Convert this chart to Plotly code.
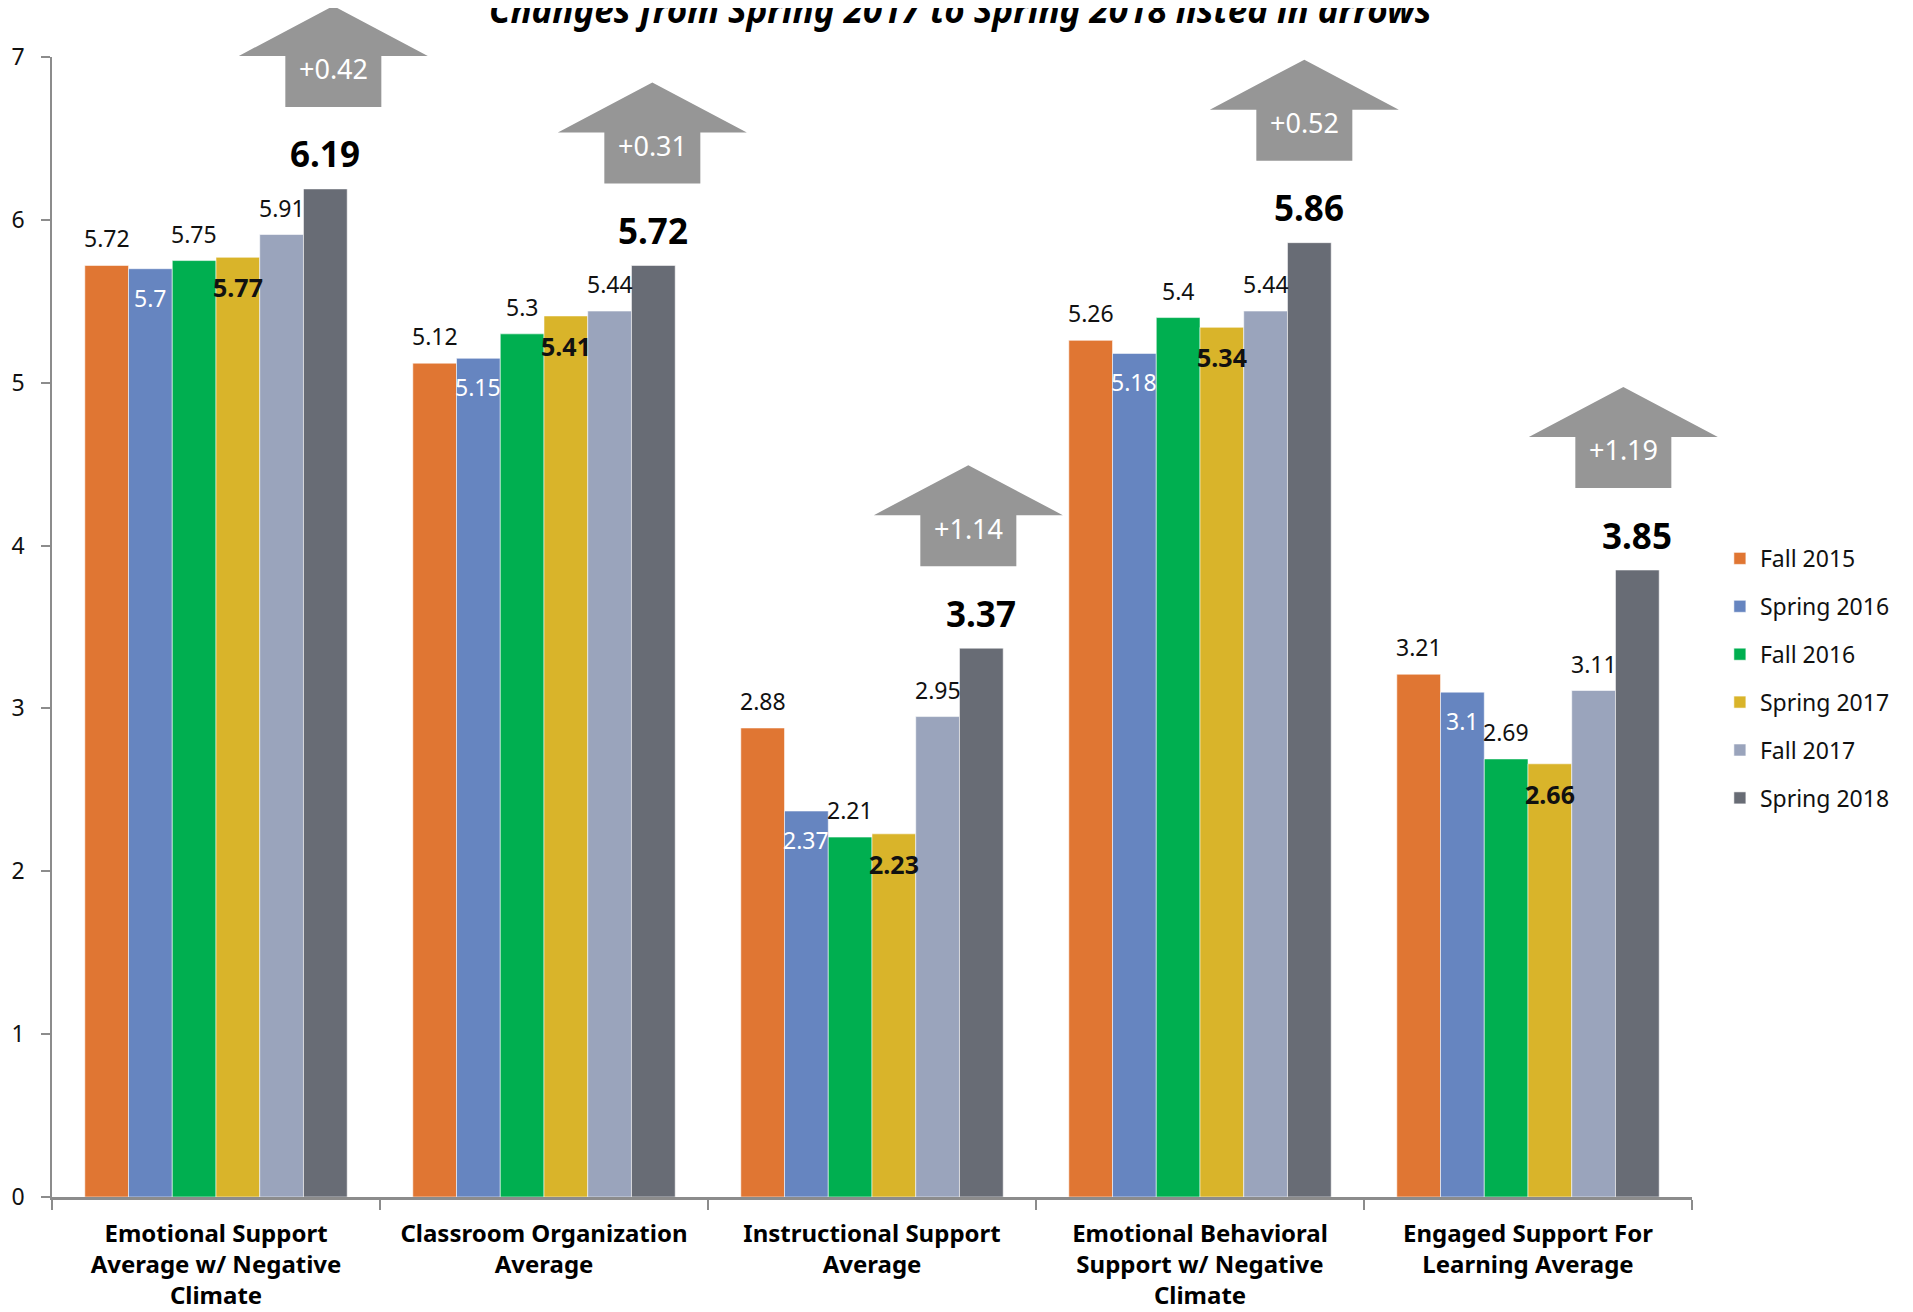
import plotly.graph_objects as go

# ---------------- data ----------------
categories = [
    "Emotional Support<br>Average w/ Negative<br>Climate",
    "Classroom Organization<br>Average",
    "Instructional Support<br>Average",
    "Emotional Behavioral<br>Support w/ Negative<br>Climate",
    "Engaged Support For<br>Learning Average",
]
series_names = ["Fall 2015", "Spring 2016", "Fall 2016", "Spring 2017", "Fall 2017", "Spring 2018"]
fall_2015 = [5.72, 5.12, 2.88, 5.26, 3.21]
spring_2016 = [5.7, 5.15, 2.37, 5.18, 3.1]
fall_2016 = [5.75, 5.3, 2.21, 5.4, 2.69]
spring_2017 = [5.77, 5.41, 2.23, 5.34, 2.66]
fall_2017 = [5.91, 5.44, 2.95, 5.44, 3.11]
spring_2018 = [6.19, 5.72, 3.37, 5.86, 3.85]
changes = ["+0.42", "+0.31", "+1.14", "+0.52", "+1.19"]
y_ticks = [0, 1, 2, 3, 4, 5, 6, 7]
title_text = "Changes from Spring 2017 to Spring 2018 listed in arrows"

series_values = [fall_2015, spring_2016, fall_2016, spring_2017, fall_2017, spring_2018]
colors = ["#E07633", "#6685C0", "#00AF50", "#D9B42A", "#9AA4BC", "#686C75"]
# label style per series: (pixel shift of label centre from bar top, colour, bold, size)
label_styles = [
    (27, "#111111", False, 23),
    (-29, "#FFFFFF", False, 23),
    (27, "#111111", False, 23),
    (-30, "#111111", True, 25),
    (27, "#111111", False, 23),
    (35, "#000000", True, 35),
]
# horizontal pixel nudges of the hand-placed arrows
arrow_nudge = [8, -1, -13, -5, -14]

FONT = "Noto Sans"
W, H = 1905, 1304          # page adds an 8px body margin
ML, MT = 44, 49
PW, PH = 1640, 1140
MR, MB = W - ML - PW, H - MT - PH
X0, X1 = -0.5, len(categories) - 0.5
Y0, Y1 = 0, 7
BARGAP = 0.2
n_series = len(series_names)
bar_w = (1 - BARGAP) / n_series

x_idx = list(range(len(categories)))

fig = go.Figure()
for name, vals, col in zip(series_names, series_values, colors):
    fig.add_trace(go.Bar(
        x=x_idx, y=vals, name=name, legendgroup=name,
        marker=dict(color=col, line=dict(color="rgba(255,255,255,0.55)", width=1)),
        hoverinfo="skip",
    ))


def bar_center(i, j):
    return i + (j - (n_series - 1) / 2) * bar_w


def px_x(v):
    return (v - X0) / (X1 - X0)


def px_y(v):
    return (v - Y0) / (Y1 - Y0)


annotations = []
# value labels
for j, vals in enumerate(series_values):
    shift, col, bold, size = label_styles[j]
    for i, v in enumerate(vals):
        txt = f"{v:g}"
        if bold:
            txt = f"<b>{txt}</b>"
        annotations.append(dict(
            x=bar_center(i, j), y=v, xref="x", yref="y", text=txt, showarrow=False,
            yanchor="middle", xanchor="center", yshift=shift,
            font=dict(family=FONT, size=size, color=col),
        ))

# arrows with change values (drawn above the Spring 2018 bars)
GAP, SHAFT_H, HEAD_H, SHAFT_HW, HEAD_HW = 82, 51, 50, 48, 94.5
shapes = []
last = n_series - 1
for i, (v, ch) in enumerate(zip(spring_2018, changes)):
    cx = px_x(bar_center(i, last)) + arrow_nudge[i] / PW
    base = px_y(v) + GAP / PH
    s_top = base + SHAFT_H / PH
    h_top = s_top + HEAD_H / PH
    sw = SHAFT_HW / PW
    hw = HEAD_HW / PW
    path = (f"M{cx - sw},{base} L{cx + sw},{base} L{cx + sw},{s_top} L{cx + hw},{s_top} "
            f"L{cx},{h_top} L{cx - hw},{s_top} L{cx - sw},{s_top} Z")
    shapes.append(dict(type="path", xref="paper", yref="paper", path=path,
                       fillcolor="#969696", line=dict(width=0), layer="above"))
    annotations.append(dict(
        x=cx, y=s_top - 13 / PH, xref="paper", yref="paper", text=ch, showarrow=False,
        xanchor="center", yanchor="middle",
        font=dict(family=FONT, size=27, color="#FFFFFF"),
    ))

# title (partially cut at the top edge, as in the reference)
annotations.append(dict(
    x=(952 - ML) / PW, y=1 + (MT - 2) / PH,
    xref="paper", yref="paper", text=f"<b><i>{title_text}</i></b>", showarrow=False,
    xanchor="center", yanchor="middle",
    font=dict(family=FONT, size=35, color="#000000"),
))

axis_col = "#8C8C8C"
fig.update_layout(
    template="none",
    width=W, height=H,
    margin=dict(l=ML, r=MR, t=MT, b=MB, pad=0, autoexpand=False),
    paper_bgcolor="white", plot_bgcolor="white",
    barmode="group", bargap=BARGAP, bargroupgap=0,
    font=dict(family=FONT, color="#111111"),
    showlegend=True,
    legend=dict(
        x=1.017, y=0.579, xanchor="left", yanchor="top",
        font=dict(family=FONT, size=23, color="#111111"),
        tracegroupgap=15, bgcolor="rgba(0,0,0,0)", borderwidth=0,
    ),
    xaxis=dict(
        range=[X0, X1], tickmode="array", tickvals=x_idx, ticktext=categories,
        ticks="", showline=True, linecolor=axis_col, linewidth=3, showgrid=False,
        zeroline=False, automargin=False,
        tickfont=dict(family=FONT, size=24, color="#000000", weight="bold"),
        ticklabelstandoff=13,
        minor=dict(tickmode="array", tickvals=[k - 0.5 for k in range(len(categories) + 1)],
                   ticks="outside", ticklen=10, tickwidth=1.5, tickcolor=axis_col, showgrid=False),
    ),
    yaxis=dict(
        range=[Y0, Y1], tickmode="array", tickvals=y_ticks, ticks="outside", ticklen=9,
        tickwidth=1.5, tickcolor=axis_col, showline=True, linecolor=axis_col, linewidth=1.5,
        showgrid=False, zeroline=False, automargin=False,
        tickfont=dict(family=FONT, size=23, color="#111111"),
        ticklabelstandoff=12,
    ),
    shapes=shapes,
    annotations=annotations,
)

fig.write_html("out.html")
